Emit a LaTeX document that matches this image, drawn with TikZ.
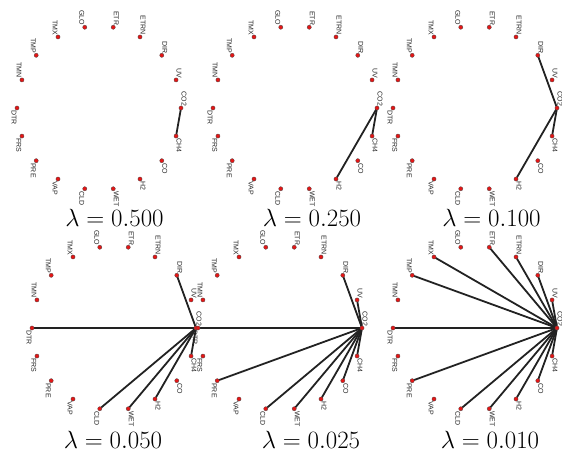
\documentclass[tikz,border=0pt]{standalone}
\usepackage{fontspec}
\usetikzlibrary{calc,backgrounds}
\newfontfamily\varfont{Liberation Sans}
\definecolor{dotred}{RGB}{228,22,22}
\definecolor{linkgray}{RGB}{34,34,34}
\tikzset{
  vardot/.style={circle,fill=dotred,draw=black!70,line width=0.3pt,inner sep=0pt,minimum size=4.2pt},
  varname/.style={font=\varfont\fontsize{7}{8}\selectfont,text=black!85,rotate=-90,inner sep=0.4pt},
  link/.style={draw=linkgray,line width=1.8pt},
  lambdatext/.style={font=\fontsize{25}{30}\selectfont,anchor=base}
}
% one panel: name, centre, lambda, place of the lambda, variables linked to CO2
\newcommand{\drawpanel}[5]{%
  \coordinate (#1) at #2;
  % variables round the circle, names turned on their side
  \foreach \v/\a/\anc/\dy in {CO2/0/south east/1.5, UV/20/south east/1.5,
      DIR/40/south east/1.5, ETRN/60/south east/1.5, ETR/80/south east/1.5,
      GLO/100/north east/1.5, TMX/120/north east/1.5, TMP/140/north east/1.5,
      TMN/160/north east/1.5, DTR/180/north west/-2, FRS/200/north west/-2,
      PRE/220/north west/-2, VAP/240/north west/-2, CLD/260/north west/-2,
      WET/280/south west/-2, H2/300/south west/-2, CO/320/south west/-2,
      CH4/340/south west/-2}{
    \node[vardot] (#1-\v) at ($(#1)+(\a:82)$) {};
    \node[varname,anchor=\anc] (#1-\v-name) at ($(#1-\v)+(0,\dy)$) {\v};
  }
  \begin{scope}[on background layer]
    \foreach \t in {#5}{
      \draw[link] (#1-CO2.center) -- (#1-\t.center);
    }
  \end{scope}
  \node[lambdatext] (#1-lambda) at #4 {$\lambda = #3$};
}

\begin{document}
\begin{tikzpicture}[x=1pt,y=1pt]
  \useasboundingbox (0,0) rectangle (562,456);
  % top row
  \drawpanel{pa}{(99,348)}{0.500}{(114.5,229.5)}{CH4}
  \drawpanel{pb}{(295,348)}{0.250}{(312,229.5)}{CH4,H2}
  \drawpanel{pc}{(475,348)}{0.100}{(491.5,229.5)}{DIR,CH4,H2}
  % bottom row
  \drawpanel{pd}{(114,128)}{0.050}{(113,8)}{DIR,DTR,CLD,WET,H2,CH4}
  \drawpanel{pe}{(280,128)}{0.025}{(311,8)}{DIR,UV,DTR,PRE,CLD,WET,H2,CO,CH4}
  \drawpanel{pf}{(475,128)}{0.010}{(490,8)}{ETR,ETRN,DIR,UV,TMX,TMP,DTR,PRE,CLD,WET,H2,CO,CH4}
\end{tikzpicture}
\end{document}
